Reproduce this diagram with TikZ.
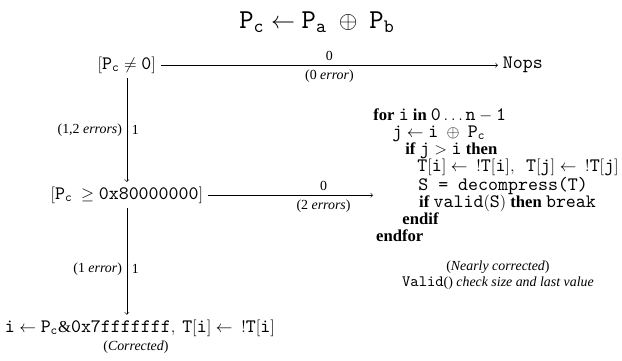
\documentclass[tikz,border=0pt]{standalone}
\usepackage{amsmath}
\usepackage{amssymb}
\usepackage{fontspec}
\setmainfont{Liberation Serif}
\setmonofont{lmmono10-regular.otf}[Scale=1.14]

\begin{document}
\begin{tikzpicture}[
    state/.style={font=\large},
    lbl/.style={font=\normalsize},
    code/.style={align=left,inner sep=0pt,font={\fontsize{12}{12.3}\selectfont}}
  ]
                \useasboundingbox (0,0) rectangle (15.74,9.11);
                \node[font=\LARGE] (title) at (8.02,8.55) {$\mathtt{P_c} \leftarrow \mathtt{P_a} \;\oplus\; \mathtt{P_b}$};
                \node[state] (nz) at (3.21,7.46) {$[\mathtt{P_c} \neq \mathtt{0}]$};
                \node[state,anchor=west] (nops) at (12.6,7.46) {\texttt{Nops}};
                \node[state] (msb) at (3.21,4.17) {$[\mathtt{P_c}\ \geq \mathtt{0x80000000}]$};
                \node[state] (fix) at (3.54,0.81) {$\mathtt{i} \leftarrow \mathtt{P_c}\&\mathtt{0x7fffffff},\ \mathtt{T}[\mathtt{i}] \leftarrow\;\ !\mathtt{T}[\mathtt{i}]$};
                \node[lbl] (fixnote) at (3.44,0.33) {(\emph{Corrected})};
                \node[code,anchor=west] (loop) at (9.44,4.68) {%
                    \textbf{for} $\mathtt{i}$ \textbf{in} $\mathtt{0} \ldots \mathtt{n}-\mathtt{1}$\\
                    \hspace*{13.7pt}$\mathtt{j} \leftarrow \mathtt{i} \;\oplus\; \mathtt{P_c}$\\
                    \hspace*{23pt}\textbf{if} $\mathtt{j} > \mathtt{i}$ \textbf{then}\\
                    \hspace*{31.7pt}$\mathtt{T}[\mathtt{i}] \leftarrow\;\ !\mathtt{T}[\mathtt{i}],\;\ \mathtt{T}[\mathtt{j}] \leftarrow\;\ !\mathtt{T}[\mathtt{j}]$\\
                    \hspace*{32.4pt}\texttt{S = decompress(T)}\\
                    \hspace*{33pt}\textbf{if} $\mathtt{valid}(\mathtt{S})$ \textbf{then} \texttt{break}\\
                    \hspace*{21pt}\textbf{endif}\\
                    \hspace*{2pt}\textbf{endfor}};
                \node[lbl,align=center] (loopnote) at (12.6,2.15) {(\emph{Nearly corrected})\\ \texttt{Valid}() \emph{check size and last value}};
                \draw[->] (nz) -- node[above] {0} node[below] {(0 \emph{error})} (nops);
                \draw[->] (nz) -- node[left] {(1,2 \emph{errors})} node[right] {1} (msb);
                \draw[->] (msb) -- node[pos=0.7,above] {0} node[pos=0.7,below] {(2 \emph{errors})} (msb -| loop.west);
                \draw[->] (msb) -- node[pos=0.57,left] {(1 \emph{error})} node[pos=0.57,right] {1} (msb |- fix.north);
            \end{tikzpicture}
\end{document}
